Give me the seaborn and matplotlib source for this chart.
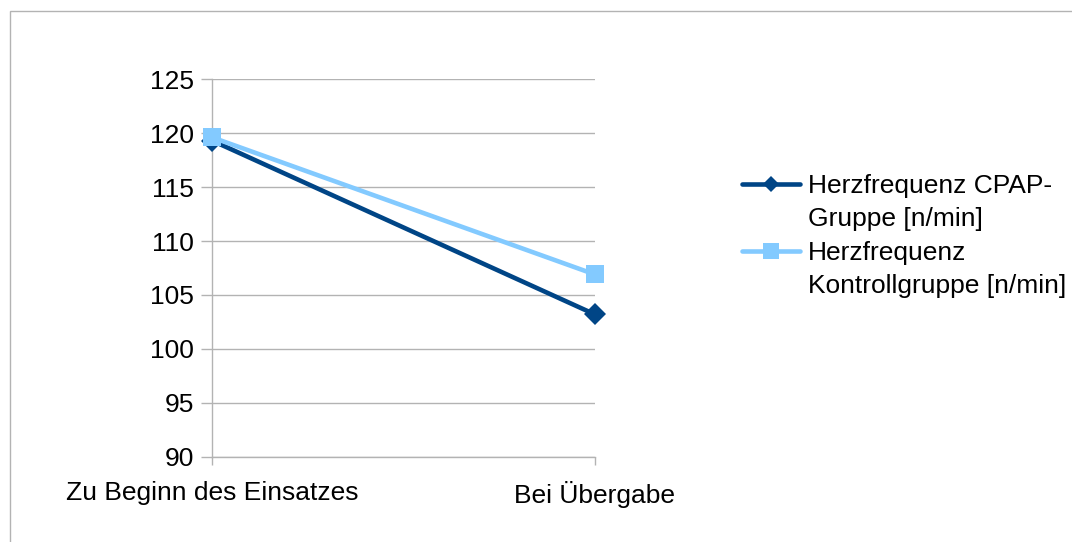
import matplotlib
matplotlib.use("Agg")
import matplotlib.pyplot as plt
from matplotlib.legend_handler import HandlerLine2D
from matplotlib.patches import Rectangle
import seaborn as sns
import pandas as pd

# Messzeitpunkte und mittlere Herzfrequenz je Gruppe
zeitpunkte = ["Zu Beginn des Einsatzes", "Bei Übergabe"]
hf_cpap = [119.3, 103.2]
hf_kontrolle = [119.6, 106.9]
serien = ["Herzfrequenz CPAP-\nGruppe [n/min]", "Herzfrequenz\nKontrollgruppe [n/min]"]
y_ticks = [90, 95, 100, 105, 110, 115, 120, 125]

df = pd.DataFrame({
    "Zeitpunkt": zeitpunkte * 2,
    "Herzfrequenz": hf_cpap + hf_kontrolle,
    "Gruppe": [serien[0]] * 2 + [serien[1]] * 2,
})

sns.set_theme(style="white")
plt.rcParams["font.family"] = ["Liberation Sans", "DejaVu Sans"]
plt.rcParams["text.color"] = "black"

fig = plt.figure(figsize=(10.72, 5.42), dpi=100)
ax = fig.add_axes([212 / 1072, 85 / 542, 383 / 1072, 378 / 542])

farben = {serien[0]: "#004586", serien[1]: "#83CAFF"}
marker = {serien[0]: "D", serien[1]: "s"}
groesse = {serien[0]: 11, serien[1]: 13}
legenden_groesse = {serien[0]: 8.5, serien[1]: 12}

for name in serien:
    sub = df[df["Gruppe"] == name]
    sns.lineplot(data=sub, x="Zeitpunkt", y="Herzfrequenz", ax=ax,
                 color=farben[name], linewidth=3.3, marker=marker[name],
                 markersize=groesse[name], markeredgewidth=0,
                 label=name, sort=False, zorder=3, clip_on=False)

ax.set_xlim(0, 1)
ax.set_ylim(90, 125)
ax.set_yticks(y_ticks)
ax.set_xticks([0, 1])
ax.set_xticklabels(zeitpunkte)
ax.set_xlabel("")
ax.set_ylabel("")

ax.grid(axis="y", color="#b3b3b3", linewidth=1.0)
ax.grid(axis="x", visible=False)
for side in ["top", "right"]:
    ax.spines[side].set_visible(False)
for side in ["left", "bottom"]:
    ax.spines[side].set_color("#b3b3b3")
    ax.spines[side].set_linewidth(1.0)
ax.spines["left"].set_zorder(1)

ax.tick_params(axis="y", direction="out", length=8, width=1, color="#b3b3b3",
               pad=5, labelsize=19, labelcolor="black", left=True)
ax.tick_params(axis="x", direction="out", length=6, width=1, color="#b3b3b3",
               pad=11, labelsize=19, labelcolor="black", bottom=True)


class OberkantenHandler(HandlerLine2D):
    """Legendensymbol auf Höhe der ersten Textzeile, mit eigener Markergröße."""

    def __init__(self, markergroesse, **kw):
        super().__init__(**kw)
        self.markergroesse = markergroesse

    def create_artists(self, legend, orig_handle, xdescent, ydescent,
                       width, height, fontsize, trans):
        artists = super().create_artists(legend, orig_handle, xdescent,
                                         ydescent - 27, width, height,
                                         fontsize, trans)
        for a in artists:
            if a.get_marker() not in (None, "None", ""):
                a.set_markersize(self.markergroesse)
        return artists


handles, labels = ax.get_legend_handles_labels()
leg = ax.legend(handles, labels, loc="center left", bbox_to_anchor=(1.355, 0.585),
                frameon=False, fontsize=19, handlelength=2.2, handletextpad=0.32,
                labelspacing=0.4, borderaxespad=0,
                handler_map={h: OberkantenHandler(legenden_groesse[l])
                             for h, l in zip(handles, labels)})
for t in leg.get_texts():
    t.set_color("black")
    t.set_linespacing(1.45)

# Rahmen um das Diagramm
fig.patches.append(Rectangle((10 / 1072, -0.1), 1.2, 1.1 - 11 / 542,
                             transform=fig.transFigure, fill=False,
                             edgecolor="#b3b3b3", linewidth=1.0))

fig.savefig("out.png", dpi=100)
